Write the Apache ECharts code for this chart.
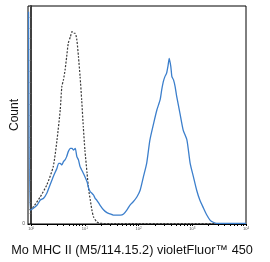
<!DOCTYPE html>
<html><head><meta charset="utf-8">
<script src="https://cdn.jsdelivr.net/npm/echarts@6/dist/echarts.min.js"></script>
<style>html,body{margin:0;padding:0;background:#fff}#c{width:270px;height:262px}</style>
</head><body><div id="c"></div>
<script>
// x positions are log10 of fluorescence intensity
const isoX = [-0.03,0.04,0.17,0.29,0.41,0.48,0.54,0.57,0.60,0.63,0.66,0.69,0.73,0.76,0.79,0.82,0.85,0.88,0.91,0.94,0.97,1.00,1.04,1.07,1.10,1.13,1.16,1.22,1.28,1.5,2.0,2.5,3.0,3.5,4.0];
const isoY = [6.4,7.9,12.5,17.9,26.3,38.5,52.3,63.0,66.1,70.6,76.7,82.9,85.9,88.2,87.5,87.5,84.4,76.7,67.6,56.9,44.6,33.9,23.3,15.6,11.0,6.4,3.3,1.0,0.3,0.2,0.2,0.2,0.2,0.2,0.2];
const stainX = [-0.05,-0.02,0.04,0.11,0.17,0.23,0.29,0.35,0.41,0.48,0.51,0.54,0.57,0.60,0.63,0.66,0.69,0.73,0.76,0.79,0.82,0.85,0.88,0.91,0.94,0.97,1.00,1.04,1.07,1.10,1.13,1.16,1.19,1.22,1.28,1.35,1.41,1.47,1.53,1.66,1.72,1.78,1.84,1.90,1.97,2.03,2.09,2.15,2.21,2.28,2.34,2.40,2.43,2.46,2.49,2.52,2.55,2.57,2.60,2.62,2.65,2.68,2.71,2.77,2.83,2.90,2.96,3.02,3.08,3.14,3.21,3.27,3.33,3.39,3.45,3.6,3.8,4.0];
const stainY = [97.4,6.4,7.2,8.7,11.0,11.8,14.1,17.9,21.7,25.6,27.8,27.8,27.1,28.6,29.4,30.9,33.2,34.7,34.7,33.9,34.7,30.9,29.4,26.3,24.8,23.3,21.7,19.4,16.4,14.8,14.1,13.3,11.8,11.0,8.7,6.4,5.2,4.6,4.1,4.1,4.6,6.4,8.7,10.2,12.5,15.6,21.7,27.8,38.5,46.2,52.3,56.9,61.5,65.3,67.6,69.1,72.9,76.0,72.2,67.6,66.1,63.0,58.4,50.8,43.1,38.5,27.8,21.7,15.6,11.0,7.2,4.1,1.8,0.8,0.3,0.3,0.3,0.3];
const decades = [0,1,2,3,4];
const minorTicks = [];
decades.forEach(d => { for (let k = 1; k <= 9; k++) { const v = d + Math.log10(k); if (v <= 4) minorTicks.push(v); } });
const yTicks = [0,5,10,15,20,25,30,35,40,45,50,55,60,65,70,75,80,85,90,95,100];

const chart = echarts.init(document.getElementById('c'), null, {renderer: 'canvas'});
chart.setOption({
  animation: false,
  grid: {left: 28, top: 6, right: 24, bottom: 38, show: true, borderColor: '#000', borderWidth: 1,
         containLabel: false, outerBoundsMode: 'none'},
  xAxis: {
    type: 'value', min: -0.06, max: 4,
    name: 'Mo MHC II (M5/114.15.2) violetFluor™ 450',
    nameLocation: 'middle', nameGap: 20, nameMoveOverlap: false,
    nameTextStyle: {fontFamily: 'Liberation Sans', fontSize: 12.7, color: '#111', padding: [0, 10, 0, 0]},
    axisLine: {lineStyle: {color: '#000', width: 1.2}},
    axisTick: {show: true, length: 2, customValues: minorTicks, lineStyle: {color: '#000'}},
    axisLabel: {customValues: decades, margin: 3, fontSize: 4, color: '#555',
      formatter: v => '10{s|' + v + '}',
      rich: {s: {fontSize: 3, verticalAlign: 'top', color: '#555'}}},
    splitLine: {show: false}
  },
  yAxis: {
    type: 'value', min: 0, max: 100,
    name: 'Count', nameLocation: 'middle', nameGap: 7, nameMoveOverlap: false,
    nameTextStyle: {fontFamily: 'Liberation Sans', fontSize: 12, color: '#111'},
    axisLine: {lineStyle: {color: '#000', width: 1.5}},
    axisTick: {show: true, length: 1.5, customValues: yTicks, lineStyle: {color: '#555'}},
    axisLabel: {customValues: [0], margin: 3, fontSize: 5, color: '#555'},
    splitLine: {show: false}
  },
  series: [
    {type: 'line', data: isoX.map((x, i) => [x, isoY[i]]), showSymbol: false, smooth: 0.2,
     lineStyle: {color: '#3a3a3a', width: 1.2, type: [2, 1.5]}},
    {type: 'line', data: stainX.map((x, i) => [x, stainY[i]]), showSymbol: false, smooth: 0.2,
     lineStyle: {color: '#3c7fcc', width: 1.3}}
  ]
});
</script></body></html>
